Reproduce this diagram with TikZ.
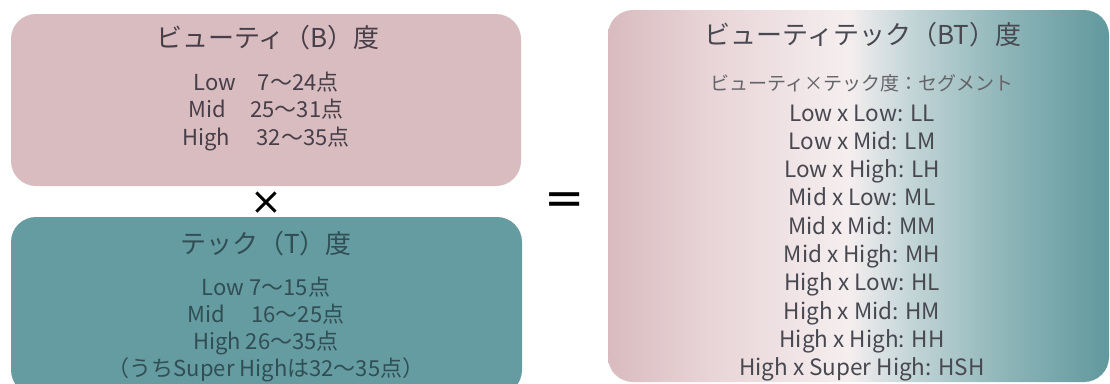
\documentclass[tikz,border=0pt]{standalone}
\usepackage{fontspec}
\setmainfont{Noto Sans CJK JP}
\newfontfamily\symfont{DejaVu Sans}
\definecolor{pinkbox}{RGB}{217,188,191}
\definecolor{tealbox}{RGB}{100,156,161}
\definecolor{gpink}{RGB}{217,187,191}
\definecolor{gpink2}{RGB}{232,212,215}
\definecolor{gwhite}{RGB}{245,238,239}
\definecolor{gblue}{RGB}{196,214,216}
\definecolor{gteal2}{RGB}{140,180,183}
\definecolor{gteal}{RGB}{97,153,158}
\definecolor{txtpink}{RGB}{70,62,72}
\definecolor{txtteal}{RGB}{48,78,84}
\definecolor{txtbt}{RGB}{72,72,80}
\definecolor{txtsub}{RGB}{100,100,104}
\pgfdeclarehorizontalshading{btshade}{100bp}{color(0bp)=(gpink); color(25bp)=(gpink); color(35bp)=(gpink2); color(49bp)=(gwhite); color(55bp)=(gblue); color(65bp)=(gteal2); color(75bp)=(gteal); color(100bp)=(gteal)}
\tikzset{
  panel/.style={rounded corners=25pt, draw=none},
  ttl/.style={font=\fontsize{26}{30}\selectfont, anchor=base, inner sep=0pt},
  bodytxt/.style={font=\fontsize{22}{26}\selectfont, anchor=base, inner sep=0pt},
  bttxt/.style={font=\fontsize{22.5}{26}\selectfont, text=txtbt, anchor=base, inner sep=0pt},
}
\begin{document}
\begin{tikzpicture}[x=1pt,y=-1pt]
\useasboundingbox (0,0) rectangle (1110,383);
% panels
\path[panel, fill=pinkbox] (11,14) rectangle (521,186);
\path[panel, fill=tealbox] (11,217) rectangle (522,395);
\path[panel, shading=btshade] (608,10) rectangle (1109,382);
% top box
\node[ttl, text=txtpink] (btitle) at (268,47) {ビューティ（B）度};
\node[bodytxt, text=txtpink] (blow) at (266,90) {Low\hspace{1em}7～24点};
\node[bodytxt, text=txtpink] (bmid) at (266,117.5) {Mid\hspace{1.1em}25～31点};
\node[bodytxt, text=txtpink] (bhigh) at (266,145) {High\hspace{1.2em}32～35点};
% operator signs
\node[font=\symfont\fontsize{38}{40}\selectfont, inner sep=0pt] (times) at (266,203) {×};
\node[font=\symfont\fontsize{48}{50}\selectfont, inner sep=0pt] (equals) at (565,203.5) {=};
% bottom box
\node[ttl, text=txtteal] (ttitle) at (266,253) {テック（T）度};
\node[bodytxt, text=txtteal] (tlow) at (266,295) {Low 7～15点};
\node[bodytxt, text=txtteal] (tmid) at (266,322) {Mid\hspace{1.2em}16～25点};
\node[bodytxt, text=txtteal] (thigh) at (266,349) {High 26～35点};
\node[bodytxt, text=txtteal] (tsuper) at (266,376) {（うちSuper Highは32～35点）};
% right box
\node[font=\fontsize{26}{30}\selectfont, text=txtbt, inner sep=0pt, anchor=base] (bttitle) at (863,44) {ビューティテック（BT）度};
\node[font=\fontsize{19}{22}\selectfont, text=txtsub, inner sep=0pt, anchor=base] (btsub) at (862,90.5) {ビューティ×テック度：セグメント};
\node[bttxt] (ll) at (862,121.0) {Low x Low: LL};
\node[bttxt] (lm) at (862,149.3) {Low x Mid: LM};
\node[bttxt] (lh) at (862,177.6) {Low x High: LH};
\node[bttxt] (ml) at (862,205.9) {Mid x Low: ML};
\node[bttxt] (mm) at (862,234.2) {Mid x Mid: MM};
\node[bttxt] (mh) at (862,262.5) {Mid x High: MH};
\node[bttxt] (hl) at (862,290.8) {High x Low: HL};
\node[bttxt] (hm) at (862,319.1) {High x Mid: HM};
\node[bttxt] (hh) at (862,347.4) {High x High: HH};
\node[bttxt] (hsh) at (862,375.7) {High x Super High: HSH};
\end{tikzpicture}
\end{document}
